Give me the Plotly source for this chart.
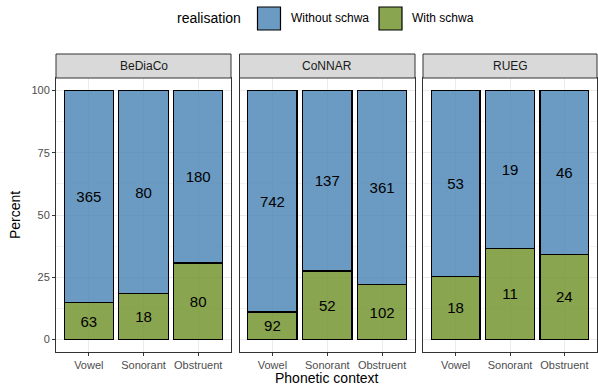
import plotly.graph_objects as go

# Counts per corpus and phonetic context
corpora = ["BeDiaCo", "CoNNAR", "RUEG"]
contexts = ["Vowel", "Sonorant", "Obstruent"]
without_schwa = {"BeDiaCo": [365, 80, 180], "CoNNAR": [742, 137, 361], "RUEG": [53, 19, 46]}
with_schwa = {"BeDiaCo": [63, 18, 80], "CoNNAR": [92, 52, 102], "RUEG": [18, 11, 24]}
y_ticks = [0, 25, 50, 75, 100]

W, H = 598, 387
ML, MR, MT, MB = 56, 1, 78, 35
PW, PH = W - ML - MR, H - MT - MB

def px_x(px):
    return (px - ML) / PW

def px_y(py):
    return (H - MB - py) / PH

FONT = "Liberation Sans, Arial, Helvetica, sans-serif"
BLUE = "rgba(70,130,180,0.8)"
GREEN = "rgba(107,142,35,0.8)"
domains = [[px_x(56), px_x(231)], [px_x(239.5), px_x(415)], [px_x(423), 1.0]]

fig = go.Figure()
for i, corp in enumerate(corpora):
    ax = "" if i == 0 else str(i + 1)
    tot = [a + b for a, b in zip(without_schwa[corp], with_schwa[corp])]
    pct_with = [100 * b / t for b, t in zip(with_schwa[corp], tot)]
    pct_without = [100 * a / t for a, t in zip(without_schwa[corp], tot)]
    for name, vals, counts, col in [("With schwa", pct_with, with_schwa[corp], GREEN),
                                    ("Without schwa", pct_without, without_schwa[corp], BLUE)]:
        fig.add_trace(go.Bar(
            x=contexts, y=vals, name=name, showlegend=False,
            xaxis="x" + ax, yaxis="y" + ax, width=0.9,
            marker=dict(color=col, line=dict(color="black", width=1.2)),
            text=[str(c) for c in counts], textposition="inside",
            insidetextanchor="middle", textangle=0, constraintext="none",
            textfont=dict(family=FONT, size=15, color="black"),
            hoverinfo="skip",
        ))
    fig.layout["xaxis" + ax] = dict(
        domain=domains[i], anchor="y" + ax, range=[-0.6, 2.6],
        categoryorder="array", categoryarray=contexts,
        showline=True, mirror=True, linecolor="#333333", linewidth=1,
        ticks="outside", ticklen=3, tickcolor="#333333",
        tickfont=dict(family=FONT, size=11, color="#4D4D4D"),
        showgrid=True, gridcolor="#EBEBEB", gridwidth=1, zeroline=False,
    )
    fig.layout["yaxis" + ax] = dict(
        domain=[0, 1], anchor="x" + ax, range=[-5, 105],
        tickvals=y_ticks, showticklabels=(i == 0),
        ticks="outside" if i == 0 else "", ticklen=3, tickcolor="#333333",
        tickfont=dict(family=FONT, size=11, color="#4D4D4D"),
        showline=True, mirror=True, linecolor="#333333", linewidth=1,
        showgrid=True, gridcolor="#EBEBEB", gridwidth=1, zeroline=False,
        minor=dict(showgrid=True, dtick=12.5, tick0=12.5, gridcolor="#F2F2F2", gridwidth=0.6),
    )

shapes = []
annotations = []
# Facet strips
for i, corp in enumerate(corpora):
    shapes.append(dict(type="rect", xref="paper", yref="paper",
                       x0=domains[i][0], x1=domains[i][1], y0=1, y1=px_y(54),
                       fillcolor="#D9D9D9", line=dict(color="#333333", width=1)))
    annotations.append(dict(text=corp, xref="paper", yref="paper",
                            x=(domains[i][0] + domains[i][1]) / 2, y=(1 + px_y(54)) / 2,
                            showarrow=False, xanchor="center", yanchor="middle",
                            font=dict(family=FONT, size=12, color="#1A1A1A")))

# Legend
annotations.append(dict(text="realisation", xref="paper", yref="paper",
                        x=px_x(175), y=px_y(18), showarrow=False,
                        xanchor="left", yanchor="middle",
                        font=dict(family=FONT, size=14, color="black")))
for x0, label, col in [(257.5, "Without schwa", BLUE), (379, "With schwa", GREEN)]:
    shapes.append(dict(type="rect", xref="paper", yref="paper",
                       x0=px_x(x0), x1=px_x(x0 + 23), y0=px_y(30), y1=px_y(7),
                       fillcolor=col, line=dict(color="black", width=1.2)))
    annotations.append(dict(text=label, xref="paper", yref="paper",
                            x=px_x(x0 + 31), y=px_y(18.5), showarrow=False,
                            xanchor="left", yanchor="middle",
                            font=dict(family=FONT, size=12, color="black")))

# Axis titles
annotations.append(dict(text="Percent", xref="paper", yref="paper",
                        x=px_x(15), y=px_y(215), showarrow=False, textangle=-90,
                        xanchor="center", yanchor="middle",
                        font=dict(family=FONT, size=14, color="black")))
annotations.append(dict(text="Phonetic context", xref="paper", yref="paper",
                        x=px_x(326.5), y=px_y(378), showarrow=False,
                        xanchor="center", yanchor="middle",
                        font=dict(family=FONT, size=14, color="black")))

fig.update_layout(
    width=W, height=H, barmode="stack",
    margin=dict(l=ML, r=MR, t=MT, b=MB),
    paper_bgcolor="white", plot_bgcolor="white",
    showlegend=False, shapes=shapes, annotations=annotations,
    font=dict(family=FONT),
)

fig.write_html("out.html")
